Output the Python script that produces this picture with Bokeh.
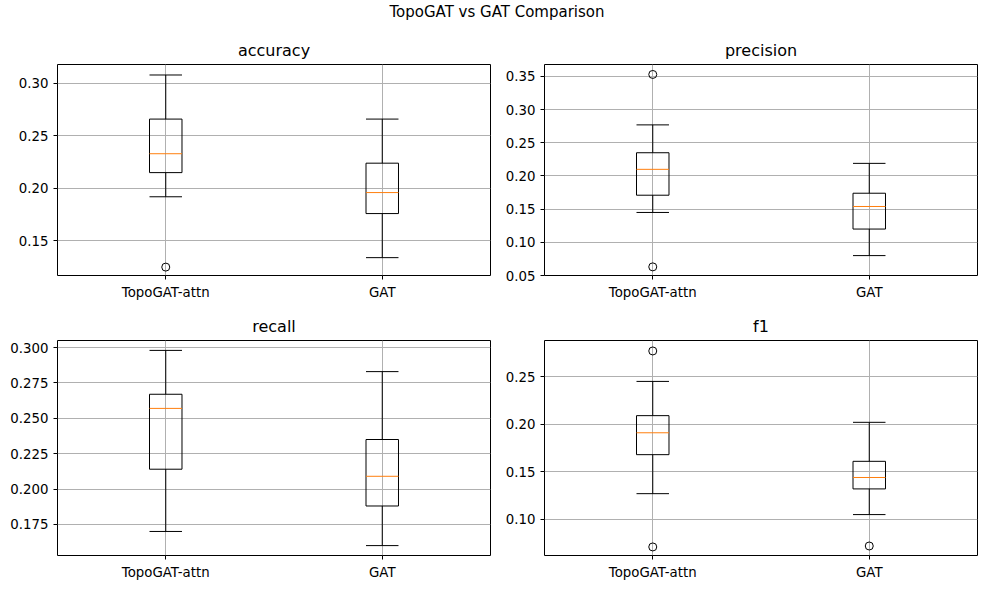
from bokeh.plotting import figure
from bokeh.layouts import column, row
from bokeh.models import Div, FixedTicker, PrintfTickFormatter
from bokeh.embed import file_html
from bokeh.resources import INLINE

models = ["TopoGAT-attn", "GAT"]
metrics = ["accuracy", "precision", "recall", "f1"]

# per metric: [TopoGAT-attn, GAT] -> (low whisker, q1, median, q3, high whisker)
stats = {
    "accuracy": [(0.192, 0.215, 0.233, 0.266, 0.308), (0.134, 0.176, 0.196, 0.224, 0.266)],
    "precision": [(0.145, 0.171, 0.210, 0.235, 0.277), (0.080, 0.120, 0.154, 0.174, 0.219)],
    "recall": [(0.170, 0.214, 0.257, 0.267, 0.298), (0.160, 0.188, 0.209, 0.235, 0.283)],
    "f1": [(0.127, 0.168, 0.191, 0.209, 0.245), (0.105, 0.132, 0.144, 0.161, 0.202)],
}
outliers = {
    "accuracy": [[0.125], []],
    "precision": [[0.353, 0.063], []],
    "recall": [[], []],
    "f1": [[0.277, 0.071], [0.072]],
}
y_ranges = {
    "accuracy": (0.117, 0.318),
    "precision": (0.050, 0.368),
    "recall": (0.153, 0.305),
    "f1": (0.062, 0.288),
}
y_ticks = {
    "accuracy": [0.15, 0.20, 0.25, 0.30],
    "precision": [0.05, 0.10, 0.15, 0.20, 0.25, 0.30, 0.35],
    "recall": [0.175, 0.200, 0.225, 0.250, 0.275, 0.300],
    "f1": [0.10, 0.15, 0.20, 0.25],
}
fmt = {"accuracy": "%.2f", "precision": "%.2f", "recall": "%.3f", "f1": "%.2f"}

# (left, right, top, bottom) borders; frame is 433 x 215
borders = [
    (57, 2, 40, 23),
    (52, 7, 40, 23),
    (57, 2, 38, 31),
    (52, 7, 38, 31),
]

figs = []
for i, m in enumerate(metrics):
    bl, br, bt, bb = borders[i]
    p = figure(width=bl + 433 + br, height=bt + 215 + bb, x_range=(0.5, 2.5), y_range=y_ranges[m],
               output_backend="svg", toolbar_location=None,
               min_border_left=bl, min_border_right=br, min_border_top=bt, min_border_bottom=bb)
    p.title.text = m
    p.title.align = "center"
    p.title.text_font_size = "12pt"
    p.title.text_font_style = "normal"
    p.title.text_font = "DejaVu Sans"
    p.title.text_color = "black"
    p.outline_line_color = "black"
    p.xaxis.ticker = FixedTicker(ticks=[1, 2])
    p.xaxis.major_label_overrides = {1: models[0], 2: models[1]}
    p.yaxis.ticker = FixedTicker(ticks=y_ticks[m])
    p.yaxis.formatter = PrintfTickFormatter(format=fmt[m])
    p.axis.minor_tick_line_color = None
    p.axis.axis_line_color = None
    p.axis.major_label_text_font = "DejaVu Sans"
    p.axis.major_label_text_font_size = "10pt"
    p.axis.major_label_text_color = "black"
    p.axis.major_tick_out = 4
    p.axis.major_tick_in = 0
    p.grid.grid_line_color = "#b0b0b0"
    for j in range(2):
        lo, q1, med, q3, hi = stats[m][j]
        x = j + 1
        p.segment([x, x], [lo, q3], [x, x], [q1, hi], line_color="black", line_width=1)
        p.segment([x - 0.075, x - 0.075], [lo, hi], [x + 0.075, x + 0.075], [lo, hi],
                  line_color="black", line_width=1)
        p.quad(left=[x - 0.075], right=[x + 0.075], bottom=[q1], top=[q3],
               fill_color=None, line_color="black", line_width=1)
        p.segment([x - 0.075], [med], [x + 0.075], [med], line_color="#ff7f0e", line_width=1)
        if outliers[m][j]:
            p.scatter([x] * len(outliers[m][j]), outliers[m][j], size=8,
                      fill_color=None, line_color="black")
    figs.append(p)

title = Div(text="TopoGAT vs GAT Comparison", width=984, height=14,
            styles={"text-align": "center", "font-size": "15px", "line-height": "14px",
                    "font-family": "DejaVu Sans", "color": "black"})
layout = column(title, row(figs[0], figs[1], spacing=0), row(figs[2], figs[3], spacing=0), spacing=0)

open("out.html", "w").write(file_html(layout, INLINE))
